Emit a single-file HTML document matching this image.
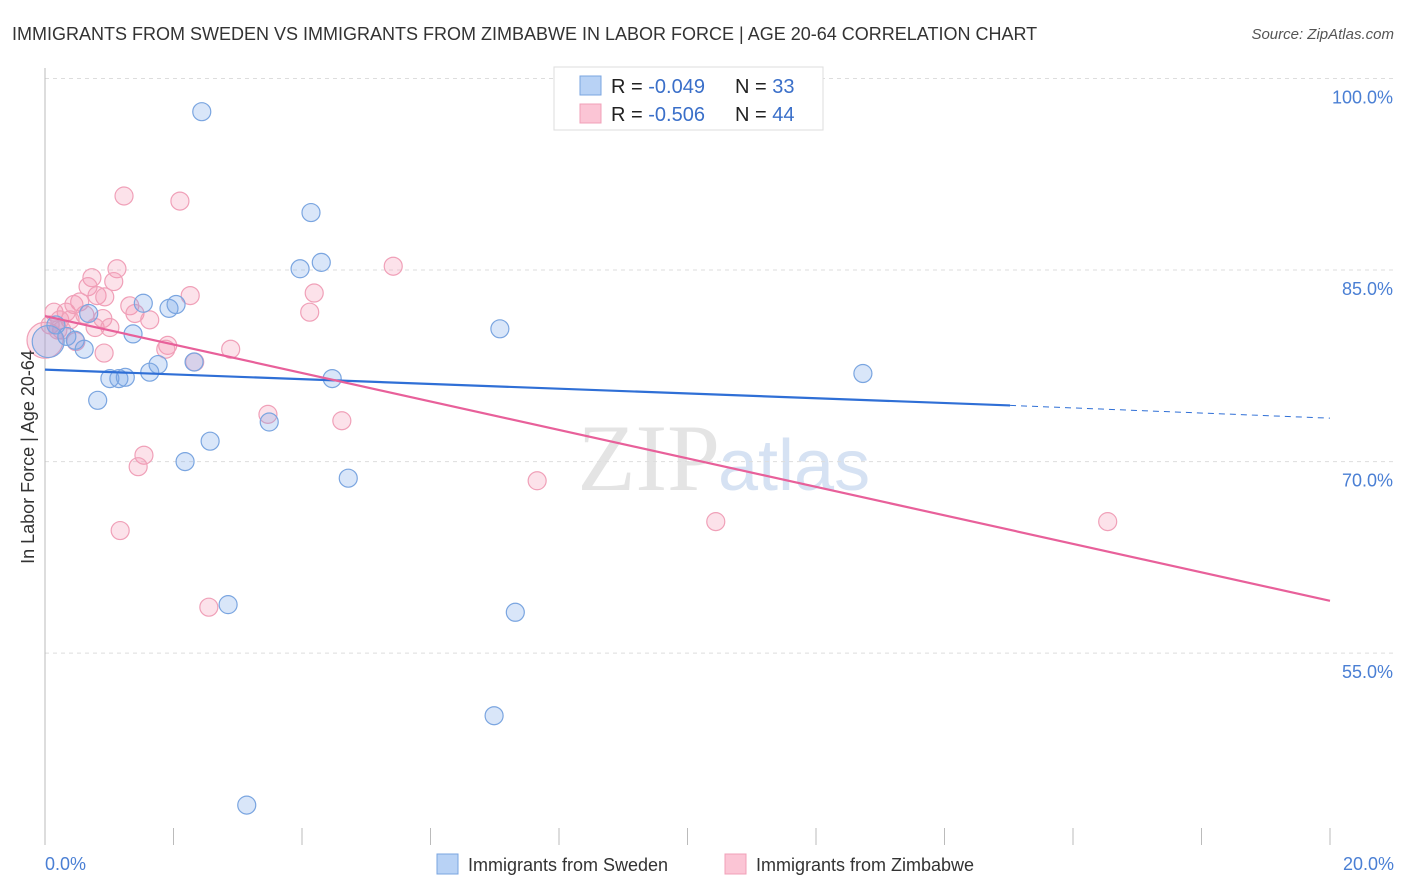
<!DOCTYPE html>
<html><head><meta charset="utf-8"><style>
body{margin:0;background:#fff;font-family:"Liberation Sans",sans-serif;}
#wrap{position:relative;width:1406px;height:892px;overflow:hidden;}
</style></head><body>
<div id="wrap">
<svg id="chart" width="1406" height="892">
<text x="12" y="40" font-size="18" fill="#333">IMMIGRANTS FROM SWEDEN VS IMMIGRANTS FROM ZIMBABWE IN LABOR FORCE | AGE 20-64 CORRELATION CHART</text>
<text x="1394" y="39" font-size="15" fill="#555" font-style="italic" text-anchor="end">Source: ZipAtlas.com</text>
<text x="720" y="490" font-size="95" fill="#e4e4e4" text-anchor="end" font-family="Liberation Serif,serif">ZIP</text>
<text x="718" y="490" font-size="72" fill="#d6e2f3">atlas</text>
<g id="grid"></g>
<g id="axes"></g>
<g id="pts"></g>
<g id="trend"></g>
<text transform="translate(34,457) rotate(-90)" font-size="18" fill="#333" text-anchor="middle">In Labor Force | Age 20-64</text>
<g>
<rect x="554" y="67" width="269" height="63" fill="#fff" stroke="#ddd"/>
<rect x="580" y="76" width="21" height="19" fill="#b8d2f5" stroke="#7aa5e0"/>
<rect x="580" y="104" width="21" height="19" fill="#fbc5d5" stroke="#f0a0b8"/>
<text x="611" y="93" font-size="20" fill="#222">R = <tspan fill="#3a6fc9">-0.049</tspan></text>
<text x="735" y="93" font-size="20" fill="#222">N = <tspan fill="#3a6fc9"> 33</tspan></text>
<text x="611" y="121" font-size="20" fill="#222">R = <tspan fill="#3a6fc9">-0.506</tspan></text>
<text x="735" y="121" font-size="20" fill="#222">N = <tspan fill="#3a6fc9">44</tspan></text>
</g>
<g>
<rect x="437" y="854" width="21" height="20" fill="#b8d2f5" stroke="#7aa5e0"/>
<text x="468" y="871" font-size="18" fill="#333">Immigrants from Sweden</text>
<rect x="725" y="854" width="21" height="20" fill="#fbc5d5" stroke="#f0a0b8"/>
<text x="756" y="871" font-size="18" fill="#333">Immigrants from Zimbabwe</text>
</g>
</svg>
</div>
<script>
const yTicks=[100,85,70,55];
const yTickLabels=["100.0%","85.0%","70.0%","55.0%"];
const xTickLabels=["0.0%","20.0%"];
const swedenX=[10.97,2.44,4.14,4.30,3.97,1.53,1.93,2.04,0.68,0.17,0.34,0.47,1.37,0.61,7.08,2.32,1.76,1.63,1.01,1.15,1.25,4.47,12.73,0.82,3.49,2.57,2.18,4.72,2.85,7.32,6.99,3.14,0.05];
const swedenY=[99.9,97.4,89.5,85.6,85.1,82.4,82.0,82.3,81.6,80.7,79.8,79.5,80.0,78.8,80.4,77.8,77.6,77.0,76.5,76.5,76.6,76.5,76.9,74.8,73.1,71.6,70.0,68.7,58.8,58.2,50.1,43.1,79.4];
const zimX=[1.23,2.10,5.42,1.12,0.73,1.07,0.67,0.81,0.93,0.54,2.26,4.19,0.14,0.33,0.45,1.32,1.40,1.63,4.12,0.90,0.23,0.08,0.39,0.78,1.01,0.26,1.91,1.88,2.89,0.92,2.33,3.47,4.62,1.54,1.45,7.66,10.44,16.54,1.17,2.55,0.0,0.48,0.20,0.62];
const zimY=[90.8,90.4,85.3,85.1,84.4,84.1,83.7,83.0,82.9,82.5,83.0,83.2,81.7,81.7,82.3,82.2,81.6,81.1,81.7,81.2,81.1,80.7,81.1,80.5,80.5,80.3,79.1,78.8,78.8,78.5,77.8,73.7,73.2,70.5,69.6,68.5,65.3,65.3,64.6,58.6,79.5,79.4,80.3,81.5];
const swedenTrend=[77.2,74.4,73.4]; const swedenTrendX=[0,15.02,20];
const zimTrend=[81.4,59.1]; const zimTrendX=[0,20];
const xS=v=>45+v*64.25;
const yS=v=>78.5+(100-v)*12.77;
const NS="http://www.w3.org/2000/svg";
function mk(tag,attrs,parent){const e=document.createElementNS(NS,tag);for(const k in attrs)e.setAttribute(k,attrs[k]);parent.appendChild(e);return e;}
const grid=document.getElementById('grid'),axes=document.getElementById('axes'),pts=document.getElementById('pts'),trend=document.getElementById('trend');
yTicks.forEach((t,i)=>{
 const l=mk('line',{x1:45,x2:1394,y1:yS(t),y2:yS(t),stroke:'#ddd','stroke-dasharray':'4,4'},grid);
 
 
 const tx=mk('text',{x:1393,y:yS(t)+25,'font-size':18,fill:'#4a7fd4','text-anchor':'end'},axes);
 tx.textContent=yTickLabels[i];
 
 
});
const ax=mk('line',{x1:45,x2:45,y1:68,y2:845,stroke:'#bbb'},axes);


for(let i=0;i<=10;i++){
 const tk=mk('line',{x1:xS(i*2),x2:xS(i*2),y1:828,y2:845,stroke:'#bbb'},axes);
 
 
}
const xl0=mk('text',{x:45,y:870,'font-size':18,fill:'#4a7fd4'},axes);xl0.textContent=xTickLabels[0];


const xl1=mk('text',{x:1394,y:870,'font-size':18,fill:'#4a7fd4','text-anchor':'end'},axes);xl1.textContent=xTickLabels[1];


zimX.forEach((x,i)=>{
 const big=(i===40);
 const c=mk('circle',{cx:xS(x),cy:yS(zimY[i]),r:big?18:9,fill:'rgba(245,150,180,0.28)',stroke:'#f0a0b8','stroke-width':1.2},pts);
 
 
});
swedenX.forEach((x,i)=>{
 const big=(i===32);
 const c=mk('circle',{cx:xS(x),cy:yS(swedenY[i]),r:big?16:9,fill:'rgba(120,165,235,0.28)',stroke:'#7aa5e0','stroke-width':1.2},pts);
 
 
});
const bt=mk('line',{x1:xS(swedenTrendX[0]),y1:yS(swedenTrend[0]),x2:xS(swedenTrendX[1]),y2:yS(swedenTrend[1]),stroke:'#2f6fd6','stroke-width':2.2},trend);


const bd=mk('line',{x1:xS(swedenTrendX[1]),y1:yS(swedenTrend[1]),x2:xS(swedenTrendX[2]),y2:yS(swedenTrend[2]),stroke:'#2f6fd6','stroke-width':1,'stroke-dasharray':'6,5'},trend);


const pt=mk('line',{x1:xS(zimTrendX[0]),y1:yS(zimTrend[0]),x2:xS(zimTrendX[1]),y2:yS(zimTrend[1]),stroke:'#e8609a','stroke-width':2.2},trend);


</script>
</body></html>
